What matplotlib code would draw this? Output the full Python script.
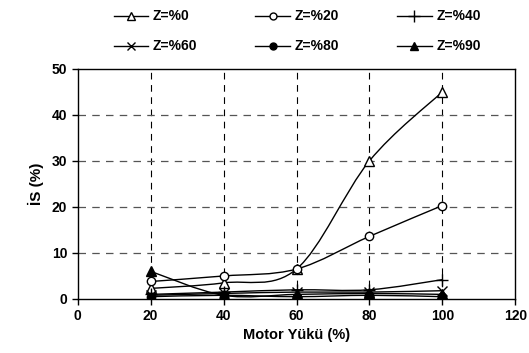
import numpy as np
import matplotlib
matplotlib.use("Agg")
import matplotlib.pyplot as plt
from matplotlib.path import Path
from matplotlib.patches import PathPatch
from matplotlib.lines import Line2D

plt.rcParams['font.family'] = ['Liberation Sans', 'DejaVu Sans']

yuk = [20, 40, 60, 80, 100]
z0 = [2.3, 3.5, 6.5, 30.0, 45.0]
z20 = [3.8, 5.0, 6.5, 13.6, 20.3]
z40 = [1.0, 1.5, 2.0, 2.0, 4.2]
z60 = [0.8, 1.2, 1.5, 1.5, 1.8]
z80 = [0.5, 0.8, 0.5, 0.8, 0.5]
z90 = [6.0, 0.8, 1.0, 1.2, 1.0]

seriler = [
    ("Z=%0", z0, "^", "white", 7),
    ("Z=%20", z20, "o", "white", 6),
    ("Z=%40", z40, "+", "black", 9),
    ("Z=%60", z60, "x", "black", 7),
    ("Z=%80", z80, "o", "black", 6),
    ("Z=%90", z90, "^", "black", 7),
]


def yumusak(x, y):
    # Catmull-Rom egrisi, kubik Bezier parcalari olarak
    p = np.column_stack([x, y]).astype(float)
    verts = [p[0]]
    codes = [Path.MOVETO]
    n = len(p)
    for i in range(n - 1):
        p0 = p[i - 1] if i > 0 else p[i]
        p3 = p[i + 2] if i + 2 < n else p[i + 1]
        c1 = p[i] + (p[i + 1] - p0) / 6
        c2 = p[i + 1] - (p3 - p[i]) / 6
        verts += [c1, c2, p[i + 1]]
        codes += [Path.CURVE4] * 3
    return Path(verts, codes)


fig = plt.figure(figsize=(5.29, 3.53), dpi=100)
ax = fig.add_axes([0.147, 0.153, 0.827, 0.652])

for ad, y, m, fc, ms in seriler:
    ax.add_patch(PathPatch(yumusak(yuk, y), fill=False, ec="black", lw=1.0, zorder=3))
    ax.plot(yuk, y, ls="none", marker=m, ms=ms, mfc=fc, mec="black", mew=1.0, zorder=4)

ax.set_xlim(0, 120)
ax.set_ylim(0, 50)
ax.set_xticks(range(0, 121, 20))
ax.set_yticks(range(0, 51, 10))
for v in range(20, 120, 20):
    ax.axvline(v, color="black", ls=(0, (6, 5)), lw=0.8, zorder=1)
for v in range(10, 50, 10):
    ax.axhline(v, color="#555555", ls=(0, (6, 5)), lw=0.9, zorder=1)

for s in ax.spines.values():
    s.set_linewidth(1.0)
ax.tick_params(direction="out", length=4, width=1, labelsize=10)
for t in ax.get_xticklabels() + ax.get_yticklabels():
    t.set_fontweight("bold")
ax.set_xlabel("Motor Yükü (%)", fontsize=10.5, fontweight="bold", labelpad=3)
ax.set_ylabel("İS (%)", fontsize=11, fontweight="bold", labelpad=6)

# lejant satir satir: ust satir %0 %20 %40, alt satir %60 %80 %90
sira = [0, 3, 1, 4, 2, 5]
tutamaklar = [Line2D([], [], color="black", lw=1.0, marker=seriler[i][2], ms=seriler[i][4] - 1,
                     mfc=seriler[i][3], mec="black") for i in sira]
fig.legend(tutamaklar, [seriler[i][0] for i in sira], ncol=3, loc="upper center",
           bbox_to_anchor=(0.562, 0.997), frameon=False, handlelength=2.5,
           columnspacing=4.15, handletextpad=0.35, labelspacing=1.15, borderaxespad=0.2,
           prop={"weight": "bold", "size": 10})

fig.savefig("out.png", dpi=100)
